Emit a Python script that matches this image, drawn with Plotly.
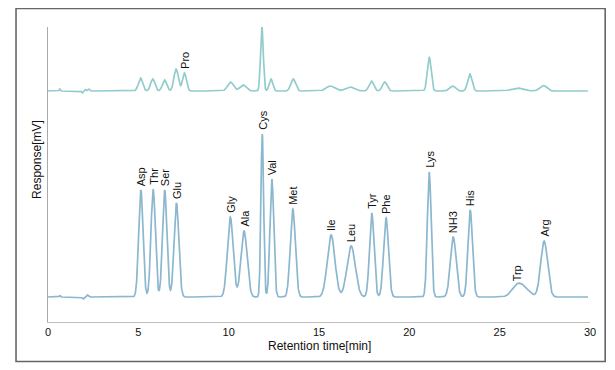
import numpy as np
import plotly.graph_objects as go

# ---- Data (retention time [min], height, width sigma [min]) ----
bottom_names = ["Asp", "Thr", "Ser", "Glu", "Gly", "Ala", "Cys", "Val", "Met",
                "Ile", "Leu", "Tyr", "Phe", "Lys", "NH3", "His", "Trp", "Arg"]
bottom_rt = [5.14, 5.82, 6.46, 7.11, 10.09, 10.85, 11.86, 12.39, 13.55,
             15.67, 16.78, 17.92, 18.71, 21.10, 22.43, 23.37, 25.98, 27.46]
bottom_height = [107, 108, 107, 94, 80, 66, 163, 118, 88,
                 62, 51, 84, 79, 125, 60, 87, 12, 56]
bottom_sigma = [0.12, 0.12, 0.12, 0.13, 0.16, 0.17, 0.075, 0.105, 0.14,
                0.21, 0.23, 0.125, 0.135, 0.105, 0.16, 0.125, 0.30, 0.19]

top_names = ["", "", "", "", "Pro", "", "", "", "", "",
             "", "", "", "", "", "", "", "", ""]
top_rt = [5.12, 5.80, 6.45, 7.09, 7.55, 10.10, 10.80, 11.84, 12.34, 13.57,
          15.62, 16.72, 17.90, 18.64, 21.10, 22.39, 23.35, 25.98, 27.42]
top_height = [13, 12, 11, 22, 18, 9, 6, 64, 12, 12,
              5, 4, 10, 9, 34, 5, 17, 3, 5.5]
top_sigma = [0.12, 0.12, 0.12, 0.12, 0.11, 0.16, 0.18, 0.075, 0.10, 0.13,
             0.23, 0.25, 0.13, 0.13, 0.105, 0.16, 0.12, 0.33, 0.19]

# small baseline disturbances and the Trp shoulder
bottom_extra_rt = [0.65, 1.95, 2.20, 26.45]
bottom_extra_h = [1.5, -2.0, 2.0, 6.0]
bottom_extra_s = [0.03, 0.05, 0.05, 0.28]
top_extra_rt = [0.65, 1.90, 2.05, 2.25]
top_extra_h = [2.0, -2.0, 1.5, 2.0]
top_extra_s = [0.03, 0.04, 0.04, 0.05]

bottom_baseline = 25
top_baseline = 231

t = np.arange(0.0, 29.9, 0.01)


def chromatogram(base, rts, hs, ss):
    y = np.full_like(t, float(base))
    for r, h, s in zip(rts, hs, ss):
        y += h * np.exp(-0.5 * ((t - r) / s) ** 2)
    return y


y_bottom = chromatogram(bottom_baseline, bottom_rt + bottom_extra_rt,
                        bottom_height + bottom_extra_h, bottom_sigma + bottom_extra_s)
y_top = chromatogram(top_baseline, top_rt + top_extra_rt,
                     top_height + top_extra_h, top_sigma + top_extra_s)

fig = go.Figure()
fig.add_trace(go.Scatter(x=t, y=y_top, mode="lines",
                         line=dict(color="#93cccc", width=1.7), hoverinfo="skip"))
fig.add_trace(go.Scatter(x=t, y=y_bottom, mode="lines",
                         line=dict(color="#8bb7cf", width=1.7), hoverinfo="skip"))

FONT = "Liberation Sans, Arial, sans-serif"
label_font = dict(family=FONT, size=11, color="#111")
for n, r, h in zip(bottom_names, bottom_rt, bottom_height):
    fig.add_annotation(x=r, y=bottom_baseline + h, text=n, textangle=-90, showarrow=False,
                       xanchor="center", yanchor="bottom", yshift=2, font=label_font)
for n, r, h in zip(top_names, top_rt, top_height):
    if n:
        fig.add_annotation(x=r, y=top_baseline + h, text=n, textangle=-90, showarrow=False,
                           xanchor="center", yanchor="bottom", yshift=2, font=label_font)

# axis titles
fig.add_annotation(x=0.5, y=-0.082, xref="paper", yref="paper", text="Retention time[min]",
                   showarrow=False, xanchor="center", yanchor="middle",
                   font=dict(family=FONT, size=12, color="#111"))
fig.add_annotation(x=-0.02, y=0.55, xref="paper", yref="paper", text="Response[mV]",
                   textangle=-90, showarrow=False, xanchor="center", yanchor="middle",
                   font=dict(family=FONT, size=12, color="#111"))

# outer frame
fig.add_shape(type="rect", xref="paper", yref="paper",
              x0=-0.059, x1=1.028, y0=-0.134, y1=1.063,
              line=dict(color="#666666", width=1.6), layer="above")

# the page body adds an 8px margin, so the figure is sized/offset accordingly
fig.update_layout(
    width=607, height=362,
    margin=dict(l=40, r=25, t=19, b=48),
    paper_bgcolor="white", plot_bgcolor="white",
    showlegend=False,
    xaxis=dict(range=[0, 30], tickvals=[0, 5, 10, 15, 20, 25, 30],
               showgrid=False, zeroline=False, showline=True, linecolor="#bdbdbd",
               linewidth=1, ticks="", tickfont=dict(family=FONT, size=11, color="#111")),
    yaxis=dict(range=[0, 295], showgrid=False, zeroline=False, showline=True,
               linecolor="#aaaaaa", linewidth=1, showticklabels=False, ticks=""),
)

fig.write_html("out.html")
